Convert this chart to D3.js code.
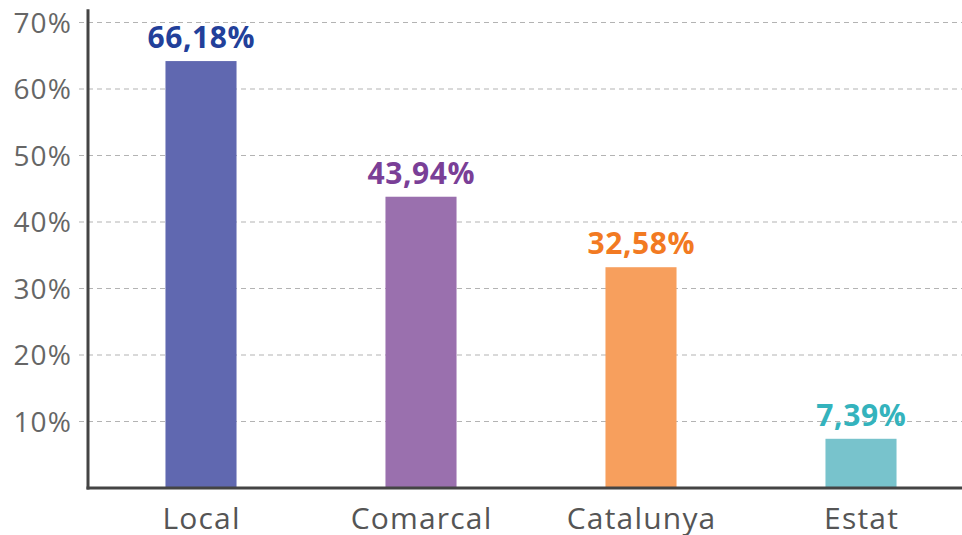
<!DOCTYPE html>
<html><head><meta charset="utf-8">
<script src="https://cdn.jsdelivr.net/npm/d3@7"></script>
<style>body{margin:0;background:#fff}svg{display:block}</style>
</head><body>
<svg id="c" width="962" height="535"></svg>
<script>
const categories = ["Local", "Comarcal", "Catalunya", "Estat"];
const barValues = [64.2, 43.8, 33.2, 7.4];
const valueLabels = ["66,18%", "43,94%", "32,58%", "7,39%"];
const barColors = ["#6068b0", "#9a70ae", "#f79f5d", "#78c3cc"];
const labelColors = ["#22409a", "#7a3f97", "#f27a22", "#34b3bd"];
const yTicks = [10, 20, 30, 40, 50, 60, 70];

const svg = d3.select("#c");
const font = "'Open Sans', sans-serif";
const x = d3.scaleBand().domain(categories).range([91, 971]).paddingInner(0.677).paddingOuter(0.3385);
const y = d3.scaleLinear().domain([0, 72]).range([488, 9.2]);

// gridlines
svg.append("g").selectAll("line").data(yTicks).join("line")
  .attr("x1", 79).attr("x2", 962)
  .attr("y1", d => y(d)).attr("y2", d => y(d))
  .attr("stroke", "#b3b3b3").attr("stroke-width", 1.2).attr("stroke-dasharray", "5,4");

// tick labels
const tickLS = 1.2;
svg.append("g").selectAll("text").data(yTicks).join("text")
  .attr("x", 71 + tickLS).attr("y", d => y(d)).attr("dy", "0.36em")
  .attr("text-anchor", "end").attr("font-family", font).attr("font-size", 28)
  .attr("letter-spacing", tickLS)
  .attr("fill", "#666").text(d => d + "%");

// bars
svg.append("g").selectAll("rect").data(categories).join("rect")
  .attr("x", d => x(d)).attr("width", x.bandwidth())
  .attr("y", (d, i) => y(barValues[i])).attr("height", (d, i) => y(0) - y(barValues[i]))
  .attr("fill", (d, i) => barColors[i]);

// value labels
const valLS = 0.6;
svg.append("g").selectAll("text").data(categories).join("text")
  .attr("x", d => x(d) + x.bandwidth() / 2 + valLS / 2).attr("y", (d, i) => y(barValues[i]) - 13)
  .attr("text-anchor", "middle").attr("font-family", font).attr("font-weight", 700)
  .attr("letter-spacing", valLS)
  .attr("font-size", 30).attr("fill", (d, i) => labelColors[i]).text((d, i) => valueLabels[i]);

// category labels
const catLS = 1.2;
svg.append("g").selectAll("text").data(categories).join("text")
  .attr("x", d => x(d) + x.bandwidth() / 2 + catLS / 2).attr("y", 529)
  .attr("text-anchor", "middle").attr("font-family", font).attr("font-size", 30)
  .attr("letter-spacing", catLS)
  .attr("fill", "#555").text(d => d);

// axes lines
svg.append("line").attr("x1", 88).attr("x2", 88).attr("y1", y(72)).attr("y2", y(0) + 1.5)
  .attr("stroke", "#444").attr("stroke-width", 3);
svg.append("line").attr("x1", 86.5).attr("x2", 962).attr("y1", y(0)).attr("y2", y(0))
  .attr("stroke", "#444").attr("stroke-width", 3);
</script>
</body></html>
